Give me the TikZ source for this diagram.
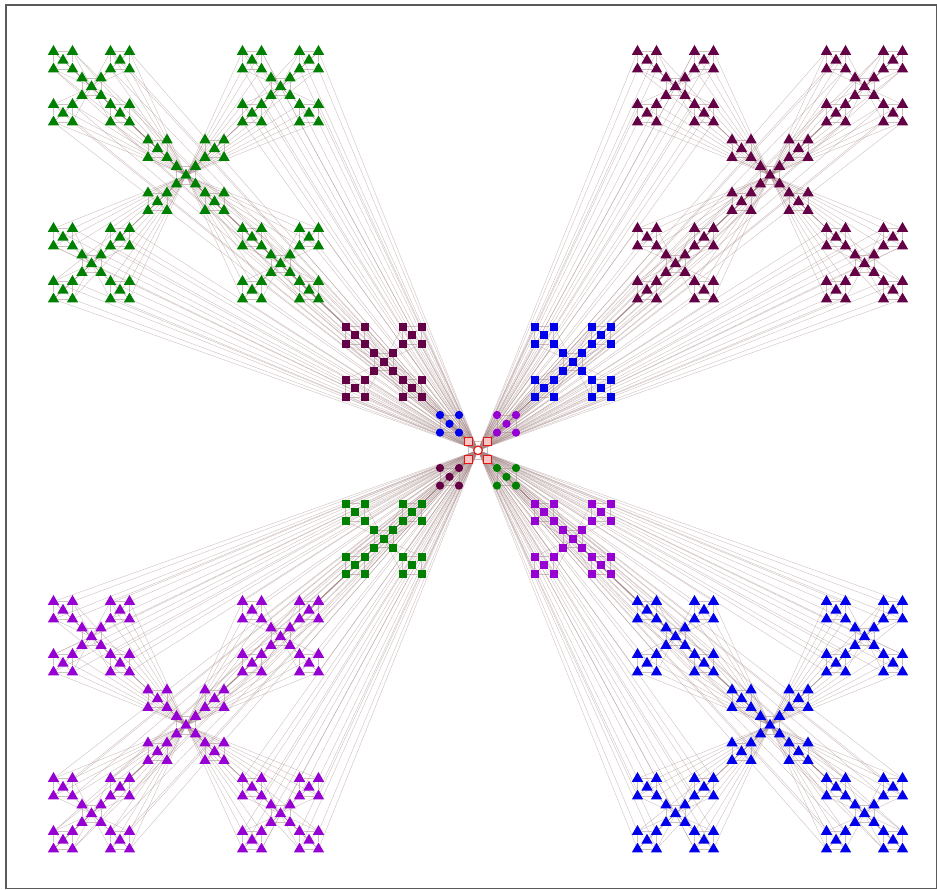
\documentclass[tikz,border=0pt]{standalone}
\usepackage{tikz}
\usetikzlibrary{
  shapes.geometric,         % 三角形标记
  backgrounds               % 连线放在底层
}

\definecolor{leaf}{RGB}{0,128,0}
\definecolor{plum}{RGB}{100,0,70}
\definecolor{violetx}{RGB}{150,0,210}
\definecolor{bluex}{RGB}{0,0,235}
\definecolor{rootred}{RGB}{230,20,20}
\definecolor{linkgray}{RGB}{160,130,130}
\definecolor{framegray}{RGB}{90,90,90}

% 五点 X 形偏移：中心 + 四角
\newcommand{\xspots}{0/0/0,1/-1/-1,2/1/-1,3/-1/1,4/1/1}

\tikzset{
  link/.style={draw=linkgray, line width=0.3pt, opacity=0.5},
  trimark/.style={regular polygon, regular polygon sides=3, fill=#1,
    inner sep=0pt, minimum size=9.8pt},
  sqmark/.style={rectangle, fill=#1, inner sep=0pt, minimum size=6pt},
  dotmark/.style={circle, fill=#1, inner sep=0pt, minimum size=6.2pt},
  redsq/.style={rectangle, draw=rootred, fill=rootred!25, line width=0.9pt,
    inner sep=0pt, minimum size=6pt},
  rootdot/.style={circle, draw=rootred, fill=white, line width=0.9pt,
    inner sep=0pt, minimum size=6.5pt}
}

\begin{document}
\begin{tikzpicture}[x=0.75pt, y=-0.75pt]
  \useasboundingbox (0,0) rectangle (937,889);
  % 外框
  \draw[framegray, line width=0.8pt] (6,5) rectangle (936.5,888.5);

  % === 中心模块：根结点与四个红色方块 ===
  \node[rootdot] (n0000) at (478,450.3) {};
  \foreach \c/\cx/\cy in {1/-1/-1,2/1/-1,3/-1/1,4/1/1}
    \node[redsq] (n000\c) at ({478+(\cx)*9.5}, {450.3+(\cy)*8.8}) {};

  % === 第一层：圆点（每象限 5 个） ===
  \foreach \b/\bx/\by/\col in {1/-1/-1/bluex,2/1/-1/violetx,3/-1/1/plum,4/1/1/leaf}{
    \foreach \c/\cx/\cy in \xspots
      \node[dotmark=\col] (n00\b\c)
        at ({478+(\bx)*28.5+(\cx)*9.5}, {450.3+(\by)*26.5+(\cy)*8.8}) {};
  }

  % === 第二层：方块（每象限 25 个） ===
  \foreach \a/\ax/\ay/\col in {1/-1/-1/plum,2/1/-1/bluex,3/-1/1/leaf,4/1/1/violetx}{
    \foreach \b/\bx/\by in \xspots
      \foreach \c/\cx/\cy in \xspots
        \node[sqmark=\col] (n0\a\b\c)
          at ({478+(\ax)*94.5+(\bx)*28.5+(\cx)*9.5},
              {450.3+(\ay)*88.5+(\by)*26.5+(\cy)*8.8}) {};
  }

  % === 第三层：三角形（每象限 125 个） ===
  \foreach \h/\hx/\hy/\col in {1/-1/-1/leaf,2/1/-1/plum,3/-1/1/violetx,4/1/1/bluex}{
    \foreach \a/\ax/\ay in \xspots
      \foreach \b/\bx/\by in \xspots
        \foreach \c/\cx/\cy in \xspots
          \node[trimark=\col] (n\h\a\b\c)
            at ({478+(\hx)*292+(\ax)*94.5+(\bx)*28.5+(\cx)*9.5},
                {450.3+(\hy)*275+(\ay)*88.5+(\by)*26.5+(\cy)*8.8}) {};
  }

  % === 连线（放在底层） ===
  \begin{scope}[on background layer]
    % 五点模块内部
    \foreach \h in {0,...,4}
      \foreach \a in {0,...,4}
        \foreach \b in {0,...,4}{
          \draw[link] (n\h\a\b1) -- (n\h\a\b2) -- (n\h\a\b4) -- (n\h\a\b3) -- (n\h\a\b1);
          \foreach \c in {1,...,4}
            \draw[link] (n\h\a\b0) -- (n\h\a\b\c);
        }
    % 25 点层：外围点连到本层中心
    \foreach \h in {0,...,4}
      \foreach \a in {0,...,4}
        \foreach \b in {1,...,4}
          \foreach \c in {1,...,4}
            \draw[link] (n\h\a\b\c) -- (n\h\a00);
    % 125 点层
    \foreach \h in {0,...,4}
      \foreach \a in {1,...,4}
        \foreach \b in {1,...,4}
          \foreach \c in {1,...,4}
            \draw[link] (n\h\a\b\c) -- (n\h000);
    % 625 点层：连到根结点
    \foreach \h in {1,...,4}
      \foreach \a in {1,...,4}
        \foreach \b in {1,...,4}
          \foreach \c in {1,...,4}
            \draw[link] (n\h\a\b\c) -- (n0000);
  \end{scope}
\end{tikzpicture}
\end{document}
